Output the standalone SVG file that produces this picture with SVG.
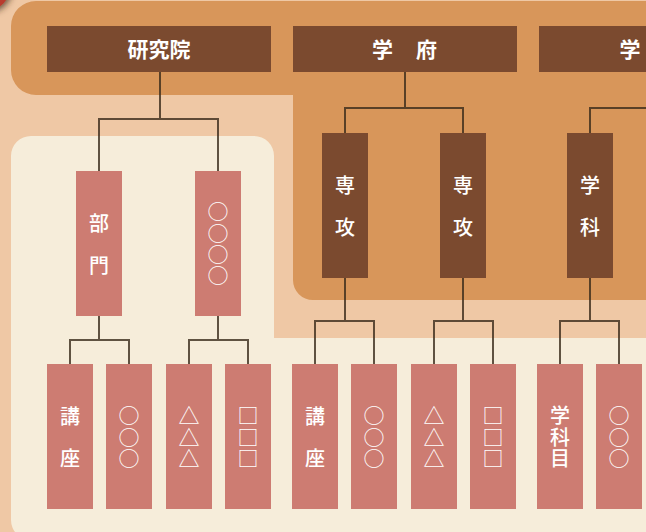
<svg xmlns="http://www.w3.org/2000/svg" width="646" height="532" viewBox="0 0 646 532">
  <defs>
    <filter id="shadow" x="-50%" y="-50%" width="200%" height="200%">
      <feDropShadow dx="2" dy="2" stdDeviation="3" flood-color="#3a2a1a" flood-opacity="0.7"/>
    </filter>
    <style>
      .bg-peach { fill: #EFC8A5; }
      .bg-orange { fill: #D8965A; }
      .bg-cream { fill: #F6EDDA; }
      .top { fill: #7B4A2F; }
      .mid { fill: #7B4A2F; }
      .leaf { fill: #CD7C72; }
      .conn { fill: none; stroke: #3a2a1a; stroke-opacity: 0.8; stroke-width: 2; }
      .ttl { font-family: "Noto Sans CJK JP", "Noto Sans", sans-serif; font-size: 21px; font-weight: 700; fill: #FFFFFF; text-anchor: middle; }
      .vt { font-family: "Noto Sans CJK JP", "Noto Sans", sans-serif; font-size: 20px; font-weight: 500; fill: #FFFFFF; text-anchor: middle; }
      .sym { font-family: "Noto Sans CJK JP", "Noto Sans", sans-serif; font-size: 21px; font-weight: 400; fill: #FFFFFF; text-anchor: middle; }
    </style>
  </defs>

  <!-- backgrounds -->
  <rect class="bg-peach" x="0" y="0" width="646" height="532"/>
  <circle cx="-15" cy="-15" r="26" fill="#B93A2E" filter="url(#shadow)"/>
  <path class="bg-orange" d="M11,26 A25,25 0 0 1 36,1 H646 V300 H313 A20,20 0 0 1 293,280 V95 H36 A25,25 0 0 1 11,70 Z"/>
  <path class="bg-cream" d="M11,156 A20,20 0 0 1 31,136 H254 A20,20 0 0 1 274,156 V338 H646 V540 H31 A20,20 0 0 1 11,520 Z"/>

  <!-- connectors -->
  <g id="connectors">
    <path class="conn" d="M160,72 V119 M99,171 V119 H218 V171"/>
    <path class="conn" d="M405,72 V108 M345,133 V108 H463 V133"/>
    <path class="conn" d="M590,133 V108 H646"/>
    <path class="conn" d="M99,316 V340 M70,364 V340 H129 V364"/>
    <path class="conn" d="M218,316 V340 M189,364 V340 H248 V364"/>
    <path class="conn" d="M345,278 V321 M315,364 V321 H374 V364"/>
    <path class="conn" d="M463,278 V321 M434,364 V321 H493 V364"/>
    <path class="conn" d="M590,278 V321 M560,364 V321 H619 V364"/>
  </g>

  <!-- top level -->
  <g id="kenkyuin">
    <rect class="top" x="47" y="26" width="224" height="46"/>
    <text class="ttl" x="159" y="57">研究院</text>
  </g>
  <g id="gakufu">
    <rect class="top" x="293" y="26" width="224" height="46"/>
    <text class="ttl" x="405" y="57" letter-spacing="1">学　府</text>
  </g>
  <g id="gakubu">
    <rect class="top" x="539" y="26" width="224" height="46"/>
    <text class="ttl" x="630" y="57">学</text>
  </g>

  <!-- middle level -->
  <g id="bumon">
    <rect class="leaf" x="76" y="171" width="46" height="145"/>
    <text class="vt"><tspan x="99" y="230.5">部</tspan><tspan x="99" y="272.5">門</tspan></text>
  </g>
  <g id="maru4">
    <rect class="leaf" x="195" y="171" width="46" height="145"/>
    <text class="sym"><tspan x="218" y="219">○</tspan><tspan x="218" y="240.5">○</tspan><tspan x="218" y="262">○</tspan><tspan x="218" y="283">○</tspan></text>
  </g>
  <g id="senko1">
    <rect class="mid" x="322" y="133" width="46" height="145"/>
    <text class="vt"><tspan x="345" y="192.5">専</tspan><tspan x="345" y="234.5">攻</tspan></text>
  </g>
  <g id="senko2">
    <rect class="mid" x="440" y="133" width="46" height="145"/>
    <text class="vt"><tspan x="463" y="192.5">専</tspan><tspan x="463" y="234.5">攻</tspan></text>
  </g>
  <g id="gakka">
    <rect class="mid" x="567" y="133" width="46" height="145"/>
    <text class="vt"><tspan x="590" y="192.5">学</tspan><tspan x="590" y="234.5">科</tspan></text>
  </g>

  <!-- bottom level -->
  <g id="koza1">
    <rect class="leaf" x="47" y="364" width="46" height="145"/>
    <text class="vt"><tspan x="70" y="423.5">講</tspan><tspan x="70" y="465.5">座</tspan></text>
  </g>
  <g id="maru3a">
    <rect class="leaf" x="106" y="364" width="46" height="145"/>
    <text class="sym"><tspan x="129" y="423">○</tspan><tspan x="129" y="444.5">○</tspan><tspan x="129" y="465.5">○</tspan></text>
  </g>
  <g id="sankaku1">
    <rect class="leaf" x="166" y="364" width="46" height="145"/>
    <text class="sym"><tspan x="189" y="423">△</tspan><tspan x="189" y="444.5">△</tspan><tspan x="189" y="465.5">△</tspan></text>
  </g>
  <g id="shikaku1">
    <rect class="leaf" x="225" y="364" width="46" height="145"/>
    <text class="sym"><tspan x="248" y="423">□</tspan><tspan x="248" y="444.5">□</tspan><tspan x="248" y="465.5">□</tspan></text>
  </g>
  <g id="koza2">
    <rect class="leaf" x="292" y="364" width="46" height="145"/>
    <text class="vt"><tspan x="315" y="423.5">講</tspan><tspan x="315" y="465.5">座</tspan></text>
  </g>
  <g id="maru3b">
    <rect class="leaf" x="351" y="364" width="46" height="145"/>
    <text class="sym"><tspan x="374" y="423">○</tspan><tspan x="374" y="444.5">○</tspan><tspan x="374" y="465.5">○</tspan></text>
  </g>
  <g id="sankaku2">
    <rect class="leaf" x="411" y="364" width="46" height="145"/>
    <text class="sym"><tspan x="434" y="423">△</tspan><tspan x="434" y="444.5">△</tspan><tspan x="434" y="465.5">△</tspan></text>
  </g>
  <g id="shikaku2">
    <rect class="leaf" x="470" y="364" width="46" height="145"/>
    <text class="sym"><tspan x="493" y="423">□</tspan><tspan x="493" y="444.5">□</tspan><tspan x="493" y="465.5">□</tspan></text>
  </g>
  <g id="gakkamoku">
    <rect class="leaf" x="537" y="364" width="46" height="145"/>
    <text class="vt" font-weight="700"><tspan x="560" y="423">学</tspan><tspan x="560" y="444.5">科</tspan><tspan x="560" y="466">目</tspan></text>
  </g>
  <g id="maru3c">
    <rect class="leaf" x="596" y="364" width="46" height="145"/>
    <text class="sym"><tspan x="619" y="423">○</tspan><tspan x="619" y="444.5">○</tspan><tspan x="619" y="465.5">○</tspan></text>
  </g>
</svg>
